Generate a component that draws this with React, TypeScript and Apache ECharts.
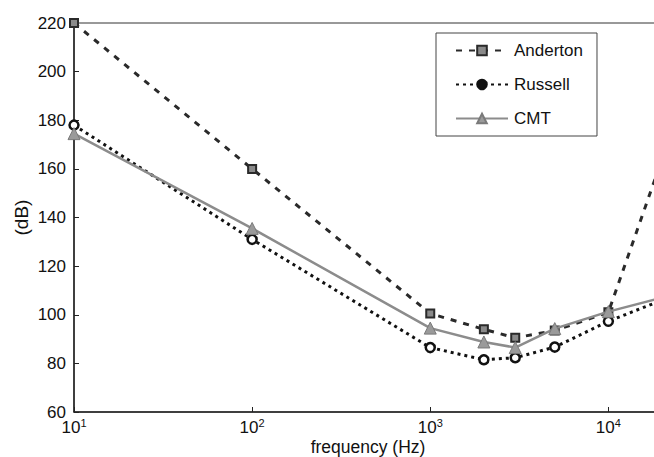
import React, { useEffect, useRef } from "react";
import * as echarts from "echarts";

const frequencies = [10, 100, 1000, 2000, 3000, 5000, 10000, 20000];
const anderton = [220, 160, 100.5, 94, 90.5, 93.5, 101, 164];
const russell = [178, 131, 86.5, 81.5, 82.3, 86.7, 97.3, 106];
const cmt = [174.5, 135.5, 94.5, 88.8, 86.5, 94.3, 101.3, 107];
const yTicks = [60, 80, 100, 120, 140, 160, 180, 200, 220];

const FONT = "Liberation Sans";

function pairs(ys: number[]) {
  return frequencies.map((f, i) => [f, ys[i]]);
}

export default function App() {
  const ref = useRef<HTMLDivElement>(null);
  useEffect(() => {
    if (!ref.current) return;
    const chart = echarts.init(ref.current, undefined, { renderer: "svg" });
    chart.setOption({
      animation: false,
      backgroundColor: "#ffffff",
      textStyle: { fontFamily: FONT },
      grid: {
        left: 74,
        top: 23,
        width: 588,
        height: 389,
        outerBoundsMode: "none",
        containLabel: false,
        show: true,
        borderColor: "#333",
        borderWidth: 1,
        backgroundColor: "transparent",
      },
      legend: {
        orient: "vertical",
        left: 436,
        top: 33,
        width: 164,
        height: 99,
        padding: [9, 14, 9, 19],
        itemGap: 17,
        itemWidth: 52,
        itemHeight: 12,
        borderColor: "#444",
        borderWidth: 1,
        backgroundColor: "#fff",
        textStyle: { fontFamily: FONT, fontSize: 17, color: "#111", padding: [0, 0, 0, 1] },
        data: [
          { name: "Anderton" },
          { name: "Russell", itemStyle: { color: "#111", borderColor: "#111" } },
          { name: "CMT" },
        ],
      },
      xAxis: {
        type: "log",
        logBase: 10,
        min: 10,
        max: 20000,
        name: "frequency (Hz)",
        nameLocation: "middle",
        nameGap: 26,
        nameMoveOverlap: false,
        nameTextStyle: { fontFamily: FONT, fontSize: 17.5, color: "#111", lineHeight: 18 },
        axisLine: { show: true, onZero: false, lineStyle: { color: "#222", width: 1.5 } },
        axisTick: { show: true, inside: true, length: 5, lineStyle: { color: "#222" } },
        splitLine: { show: false },
        axisLabel: {
          showMaxLabel: false,
          margin: 7,
          color: "#111",
          fontFamily: FONT,
          fontSize: 17,
          lineHeight: 17,
          formatter: (v: number) => "10{e|" + Math.round(Math.log10(v)) + "}",
          rich: {
            e: { fontSize: 11, fontFamily: FONT, color: "#111", padding: [0, 0, 9, 0] },
          },
        },
      },
      yAxis: {
        type: "value",
        min: yTicks[0],
        max: yTicks[yTicks.length - 1],
        interval: 20,
        name: "(dB)",
        nameLocation: "middle",
        nameGap: 43,
        nameMoveOverlap: false,
        nameRotate: 90,
        nameTextStyle: { fontFamily: FONT, fontSize: 19, color: "#111" },
        axisLine: { show: true, lineStyle: { color: "#222", width: 1.5 } },
        axisTick: { show: true, inside: true, length: 5, lineStyle: { color: "#222" } },
        splitLine: { show: false },
        axisLabel: { color: "#111", fontFamily: FONT, fontSize: 17, margin: 8 },
      },
      series: [
        {
          name: "Anderton",
          type: "line",
          data: pairs(anderton),
          symbol: "rect",
          symbolSize: 8,
          lineStyle: { color: "#2a2a2a", width: 3, type: [6, 7] },
          itemStyle: { color: "#8a8a8a", borderColor: "#2a2a2a", borderWidth: 2 },
          z: 2,
        },
        {
          name: "Russell",
          type: "line",
          data: pairs(russell),
          symbol: "circle",
          symbolSize: 9,
          lineStyle: { color: "#111", width: 3, type: [3, 4] },
          itemStyle: { color: "#ffffff", borderColor: "#111", borderWidth: 2.5 },
          z: 3,
        },
        {
          name: "CMT",
          type: "line",
          data: pairs(cmt),
          symbol: "triangle",
          symbolSize: 12,
          lineStyle: { color: "#8c8c8c", width: 2.5 },
          itemStyle: { color: "#9a9a9a", borderColor: "#7a7a7a", borderWidth: 1 },
          z: 4,
        },
      ],
    });
    return () => chart.dispose();
  }, []);
  return (
    <div
      ref={ref}
      style={{ position: "absolute", left: 0, top: 0, width: 654, height: 457, background: "#fff" }}
    />
  );
}
